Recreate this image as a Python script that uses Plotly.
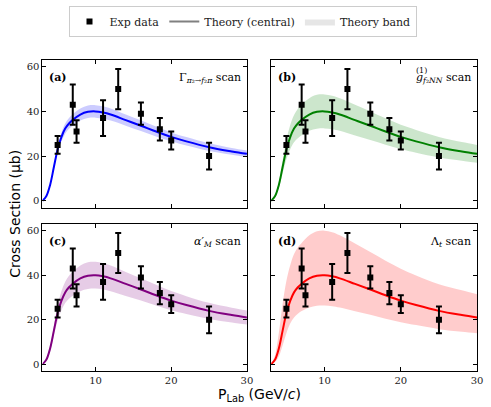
import plotly.graph_objects as go

# ---------------- data ----------------
exp_x = [5, 7, 7.5, 11, 13, 16, 18.5, 20, 25]
exp_y = [25, 43, 31, 37, 50, 39, 32, 27, 20]
exp_err = [4, 9, 5, 8, 9, 5, 5, 4, 6]

theory_x = [3, 3.5, 4, 4.5, 5, 5.5, 6, 6.5, 7, 8, 9, 10, 11, 12, 14, 16, 18, 20, 22, 25, 28, 30]
central = [0, 2, 7, 15, 23, 28.5, 32.3, 34.6, 36.2, 38.6, 39.8, 40, 39.5, 38.6, 36.1, 33.6, 31.0, 28.6, 26.6, 24.0, 22.1, 21.0]

upper_a = [0, 2.1, 7.5, 16.0, 24.6, 30.5, 34.6, 37.0, 38.7, 41.3, 42.6, 42.8, 42.3, 41.3, 38.6, 36.0, 33.2, 30.6, 28.5, 25.7, 23.6, 22.5]
lower_a = [0, 1.9, 6.5, 14.0, 21.4, 26.5, 30.0, 32.2, 33.7, 35.9, 37.0, 37.2, 36.7, 35.9, 33.6, 31.2, 28.8, 26.6, 24.7, 22.3, 20.6, 19.5]
upper_b = [0, 2.4, 8.3, 17.9, 27.4, 33.9, 38.4, 41.2, 43.1, 45.9, 47.4, 47.6, 47.0, 45.9, 43.0, 40.0, 36.9, 34.0, 31.7, 28.6, 26.3, 25.0]
lower_b = [0, 1.6, 5.7, 12.2, 18.6, 23.1, 26.2, 28.0, 29.3, 31.3, 32.2, 32.4, 32.0, 31.3, 29.2, 27.2, 25.1, 23.2, 21.5, 19.4, 17.9, 17.0]
upper_c = [0, 2.3, 8.1, 17.3, 26.5, 32.8, 37.1, 39.8, 41.6, 44.4, 45.8, 46.0, 45.4, 44.4, 41.5, 38.6, 35.7, 32.9, 30.6, 27.6, 25.4, 24.2]
lower_c = [0, 1.7, 6.0, 12.8, 19.6, 24.2, 27.5, 29.4, 30.8, 32.8, 33.8, 34.0, 33.6, 32.8, 30.7, 28.6, 26.4, 24.3, 22.6, 20.4, 18.8, 17.9]
upper_d = [0, 4.0, 14.0, 27.0, 37.5, 44.5, 49.5, 52.5, 54.5, 57.9, 59.7, 60.0, 59.3, 57.9, 54.2, 50.4, 46.5, 42.9, 39.9, 36.0, 33.2, 31.5]
lower_d = [0, 1.0, 3.5, 8.5, 14.0, 18.3, 21.0, 22.7, 23.9, 25.5, 26.3, 26.4, 26.1, 25.5, 23.8, 22.2, 20.5, 18.9, 17.6, 15.8, 14.6, 13.9]

panel_labels = ["(a)", "(b)", "(c)", "(d)"]
panel_titles = [
    "Γ<sub><i>π</i>₂→<i>f</i>₂<i>π</i></sub> scan",
    "<i>g</i><sub><i>f</i>₂<i>NN</i></sub> scan",
    "<i>α</i>′<sub><i>M</i></sub> scan",
    "Λ<sub><i>t</i></sub> scan",
]
line_colors = ["#0000ff", "#008000", "#800080", "#ff0000"]
band_colors = ["rgba(0,0,255,0.2)", "rgba(0,128,0,0.2)", "rgba(128,0,128,0.2)", "rgba(255,0,0,0.2)"]
uppers = [upper_a, upper_b, upper_c, upper_d]
lowers = [lower_a, lower_b, lower_c, lower_d]

x_ticks = [10, 20, 30]
y_ticks = [0, 20, 40, 60]

# ---------------- layout geometry ----------------
W, H = 491, 407
def px_x(p):
    return p / W
def px_y(p):
    return 1 - p / H

domains = [
    ([px_x(43), px_x(250)], [px_y(207.5), px_y(60)]),
    ([px_x(274.5), px_x(483)], [px_y(207.5), px_y(60)]),
    ([px_x(43), px_x(250)], [px_y(371), px_y(224)]),
    ([px_x(274.5), px_x(483)], [px_y(371), px_y(224)]),
]

fig = go.Figure()
serif = "DejaVu Serif"
sans = "DejaVu Sans"

# legend entries first
fig.add_trace(go.Scatter(x=[None], y=[None], mode="markers", name="Exp data",
                         marker=dict(symbol="square", size=6, color="black")))
fig.add_trace(go.Scatter(x=[None], y=[None], mode="lines", name="Theory (central)",
                         line=dict(color="gray", width=2)))
fig.add_trace(go.Scatter(x=[None, None], y=[None, None], mode="lines", name="Theory band",
                         fill="toself", fillcolor="rgba(128,128,128,0.2)",
                         line=dict(width=0, color="rgba(128,128,128,0.2)")))

for i in range(4):
    xa = "x" if i == 0 else f"x{i+1}"
    ya = "y" if i == 0 else f"y{i+1}"
    fig.add_trace(go.Scatter(x=theory_x, y=lowers[i], mode="lines",
                             line=dict(width=0, color=band_colors[i], shape="spline", smoothing=1.0),
                             hoverinfo="skip", showlegend=False, xaxis=xa, yaxis=ya))
    fig.add_trace(go.Scatter(x=theory_x, y=uppers[i], mode="lines", fill="tonexty",
                             fillcolor=band_colors[i],
                             line=dict(width=0, color=band_colors[i], shape="spline", smoothing=1.0),
                             hoverinfo="skip", showlegend=False, xaxis=xa, yaxis=ya))
    fig.add_trace(go.Scatter(x=theory_x, y=central, mode="lines",
                             line=dict(width=2, color=line_colors[i], shape="spline", smoothing=1.0),
                             showlegend=False, xaxis=xa, yaxis=ya))
    fig.add_trace(go.Scatter(x=exp_x, y=exp_y, mode="markers",
                             marker=dict(symbol="square", size=6, color="black"),
                             error_y=dict(type="data", array=exp_err, color="black", thickness=2, width=3),
                             showlegend=False, xaxis=xa, yaxis=ya))

    dx, dy = domains[i]
    axis_common = dict(showline=True, linecolor="black", linewidth=1, mirror="ticks",
                       ticks="inside", ticklen=4, tickcolor="black", tickwidth=1,
                       showgrid=False, zeroline=False,
                       tickfont=dict(family=serif, size=10, color="#222"))
    fig.layout[f"xaxis{'' if i == 0 else i+1}"] = dict(
        domain=dx, range=[3, 30], tickvals=x_ticks, anchor=ya,
        showticklabels=(i >= 2), **axis_common)
    fig.layout[f"yaxis{'' if i == 0 else i+1}"] = dict(
        domain=dy, range=[-3, 63], tickvals=y_ticks, anchor=xa,
        showticklabels=(i % 2 == 0), **axis_common)

    xd = "x domain" if i == 0 else f"x{i+1} domain"
    yd = "y domain" if i == 0 else f"y{i+1} domain"
    fig.add_annotation(text=f"<b>{panel_labels[i]}</b>", xref=xd, yref=yd, x=0, y=1,
                       xanchor="left", yanchor="top", xshift=5, yshift=-9, showarrow=False,
                       font=dict(family=serif, size=11, color="black"))
    fig.add_annotation(text=panel_titles[i], xref=xd, yref=yd, x=1, y=1,
                       xanchor="right", yanchor="top", xshift=-4, yshift=-9, showarrow=False,
                       font=dict(family=serif, size=11, color="black"))

# superscript (1) for g panel
fig.add_annotation(text="(1)", xref="x2 domain", yref="y2 domain", x=1, y=1,
                   xanchor="left", yanchor="top", xshift=-63, yshift=-4, showarrow=False,
                   font=dict(family=serif, size=8, color="black"))

# axis titles
fig.add_annotation(text="Cross Section (μb)", xref="paper", yref="paper",
                   x=px_x(15), y=px_y(214), textangle=-90, showarrow=False,
                   xanchor="center", yanchor="middle",
                   font=dict(family=sans, size=14, color="black"))
fig.add_annotation(text="P<sub>Lab</sub> (GeV/<i>c</i>)", xref="paper", yref="paper",
                   x=px_x(263), y=px_y(395), showarrow=False,
                   xanchor="center", yanchor="middle",
                   font=dict(family=sans, size=14, color="black"))

fig.update_layout(
    width=W, height=H, margin=dict(l=0, r=0, t=0, b=0),
    paper_bgcolor="white", plot_bgcolor="white",
    legend=dict(orientation="h", x=0.5, xanchor="center", y=px_y(6), yanchor="top",
                bordercolor="#cccccc", borderwidth=1, bgcolor="white",
                font=dict(family=serif, size=11, color="#222"),
                itemwidth=30, traceorder="normal"),
)

fig.write_html("out.html")
